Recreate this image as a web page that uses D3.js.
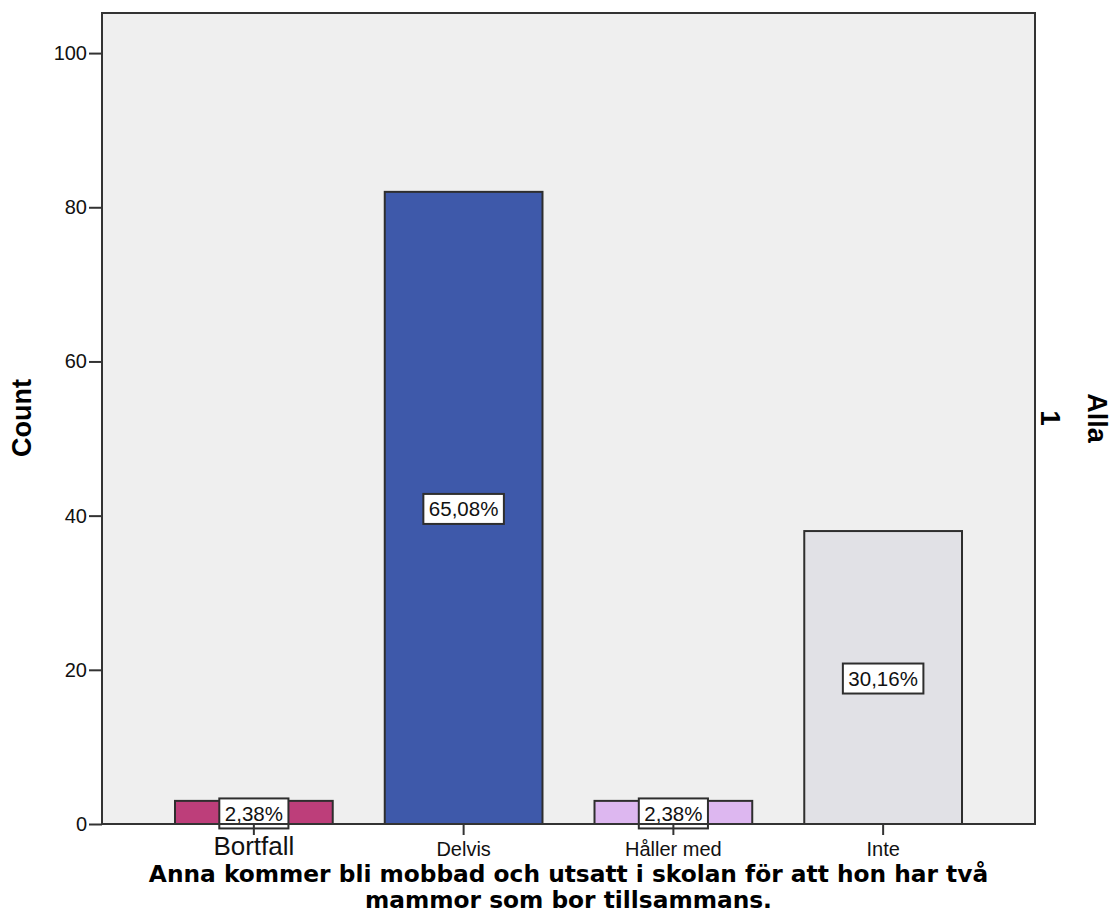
<!DOCTYPE html>
<html>
<head>
<meta charset="utf-8">
<script src="https://cdn.jsdelivr.net/npm/d3@7"></script>
<style>
  html, body { margin: 0; padding: 0; background: #ffffff; }
  svg { display: block; }
</style>
</head>
<body>
<svg id="chart" width="1113" height="916"></svg>
<script>
// ---- data ----
const categories = ["Bortfall", "Delvis", "Håller med", "Inte"];
const counts = [3, 82, 3, 38];
const percentLabels = ["2,38%", "65,08%", "2,38%", "30,16%"];
const barColors = ["#bd3e7a", "#3e59aa", "#ddb7f0", "#e1e1e6"];
const yTicks = [0, 20, 40, 60, 80, 100];
const yAxisTitle = "Count";
const xAxisTitle = ["Anna kommer bli mobbad och utsatt i skolan för att hon har två", "mammor som bor tillsammans."];
const panelTitle = "Alla";
const panelValue = "1";

// ---- layout ----
const plot = { left: 102, right: 1035, top: 13, bottom: 824 };
const svg = d3.select("#chart");

const x = d3.scaleBand()
  .domain(categories)
  .range([plot.left, plot.right])
  .paddingInner(0.248)
  .paddingOuter(0.348);

const y = d3.scaleLinear()
  .domain([0, 105.2])
  .range([plot.bottom, plot.top]);

// plot background
svg.append("rect")
  .attr("x", plot.left).attr("y", plot.top)
  .attr("width", plot.right - plot.left)
  .attr("height", plot.bottom - plot.top)
  .attr("fill", "#efefef");

// bars
const data = categories.map((c, i) => ({ c, v: counts[i], lbl: percentLabels[i], col: barColors[i] }));

svg.append("g").selectAll("rect")
  .data(data)
  .join("rect")
  .attr("x", d => x(d.c))
  .attr("y", d => y(d.v))
  .attr("width", x.bandwidth())
  .attr("height", d => y(0) - y(d.v))
  .attr("fill", d => d.col)
  .attr("stroke", "#2e2e2e")
  .attr("stroke-width", 2);

// percentage labels with boxes
const lblG = svg.append("g");
data.forEach(d => {
  const cx = x(d.c) + x.bandwidth() / 2;
  const cy = (y(d.v) + y(0)) / 2 + 1;
  const g = lblG.append("g");
  const t = g.append("text")
    .attr("x", cx).attr("y", cy)
    .attr("text-anchor", "middle")
    .attr("dominant-baseline", "central")
    .attr("font-family", "'Liberation Sans', Arial, sans-serif")
    .attr("font-size", 20.5)
    .attr("fill", "#111")
    .text(d.lbl);
  const w = t.node().getComputedTextLength() + 11;
  const h = 30;
  g.insert("rect", "text")
    .attr("x", cx - w / 2).attr("y", cy - h / 2)
    .attr("width", w).attr("height", h)
    .attr("fill", "#ffffff")
    .attr("stroke", "#2e2e2e")
    .attr("stroke-width", 2);
});

// frame
svg.append("rect")
  .attr("x", plot.left).attr("y", plot.top)
  .attr("width", plot.right - plot.left)
  .attr("height", plot.bottom - plot.top)
  .attr("fill", "none")
  .attr("stroke", "#333")
  .attr("stroke-width", 2);

// y axis
const yAxis = svg.append("g")
  .attr("transform", `translate(${plot.left},0)`)
  .call(d3.axisLeft(y).tickValues(yTicks).tickSize(13).tickPadding(2).tickFormat(d3.format("d")));
yAxis.select(".domain").remove();
yAxis.selectAll(".tick line").attr("stroke", "#333").attr("stroke-width", 2);
yAxis.selectAll(".tick text")
  .attr("font-family", "'Liberation Sans', Arial, sans-serif")
  .attr("font-size", 20)
  .attr("fill", "#111");

// x axis
const xAxis = svg.append("g")
  .attr("transform", `translate(0,${plot.bottom})`)
  .call(d3.axisBottom(x).tickSize(11).tickPadding(4));
xAxis.select(".domain").remove();
xAxis.selectAll(".tick line").attr("stroke", "#333").attr("stroke-width", 2);
xAxis.selectAll(".tick text")
  .attr("font-family", "'Liberation Sans', Arial, sans-serif")
  .attr("font-size", d => d === "Bortfall" ? 26 : 20)
  .attr("fill", "#111")
  .attr("dy", null)
  .attr("y", 32)
  .attr("dominant-baseline", "alphabetic");
xAxis.selectAll(".tick text").filter(d => d === "Bortfall").attr("y", 31);

// bottom axis line on top
svg.append("line")
  .attr("x1", plot.left).attr("x2", plot.right)
  .attr("y1", plot.bottom).attr("y2", plot.bottom)
  .attr("stroke", "#333").attr("stroke-width", 2);

// x axis title
const midX = (plot.left + plot.right) / 2;
svg.append("text")
  .attr("text-anchor", "middle")
  .attr("font-family", "'DejaVu Sans', Verdana, sans-serif")
  .attr("font-weight", "bold")
  .attr("font-size", 23.3)
  .attr("fill", "#000")
  .selectAll("tspan")
  .data(xAxisTitle)
  .join("tspan")
  .attr("x", midX)
  .attr("y", (d, i) => 882 + i * 26)
  .text(d => d);

// y axis title
svg.append("text")
  .attr("transform", `translate(22,418) rotate(-90)`)
  .attr("text-anchor", "middle")
  .attr("dominant-baseline", "central")
  .attr("font-family", "'Liberation Sans', Arial, sans-serif")
  .attr("font-weight", "bold")
  .attr("font-size", 27)
  .attr("fill", "#000")
  .text(yAxisTitle);

// right panel labels
svg.append("text")
  .attr("transform", `translate(1050,418) rotate(90)`)
  .attr("text-anchor", "middle")
  .attr("dominant-baseline", "central")
  .attr("font-family", "'Liberation Sans', Arial, sans-serif")
  .attr("font-weight", "bold")
  .attr("font-size", 28)
  .attr("fill", "#000")
  .text(panelValue);

svg.append("text")
  .attr("transform", `translate(1097,418) rotate(90)`)
  .attr("text-anchor", "middle")
  .attr("dominant-baseline", "central")
  .attr("font-family", "'Liberation Sans', Arial, sans-serif")
  .attr("font-weight", "bold")
  .attr("font-size", 27)
  .attr("fill", "#000")
  .text(panelTitle);
</script>
</body>
</html>
